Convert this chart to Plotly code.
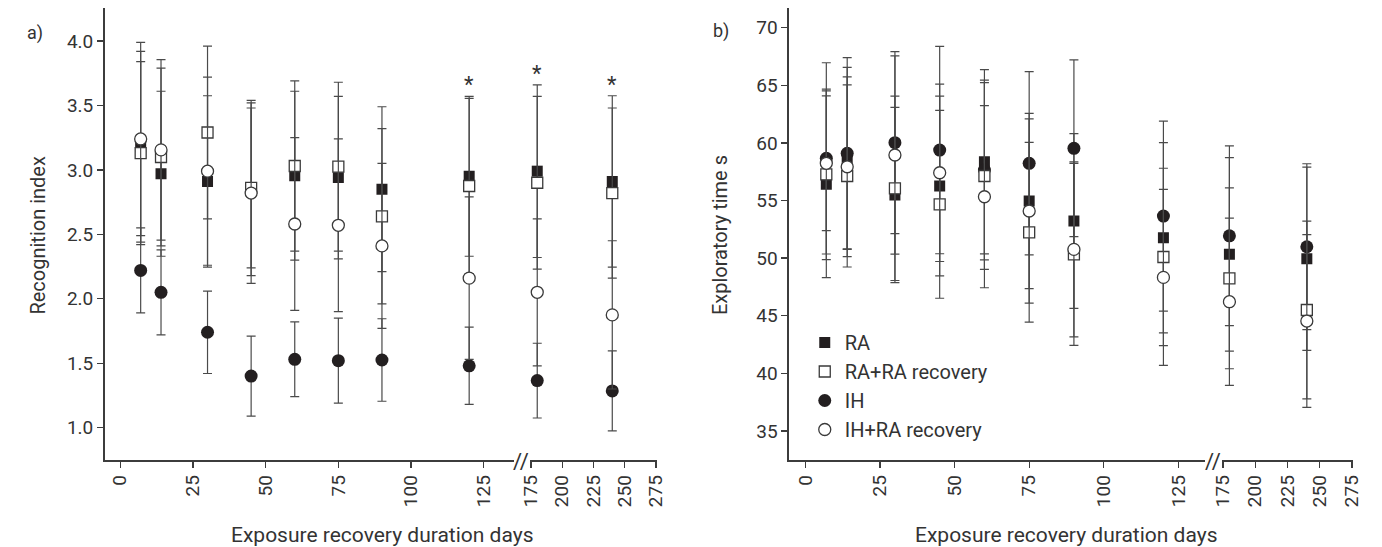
import plotly.graph_objects as go

W, H = 1382, 547

days = [7, 14, 30, 45, 60, 75, 90, 120, 180, 240]

# Panel a: Recognition index
ra_a = [3.18, 2.97, 2.91, 2.86, 2.955, 2.94, 2.85, 2.95, 2.99, 2.91]
ra_a_err = [0.74, 0.64, 0.665, 0.62, 0.655, 0.63, 0.64, 0.62, 0.67, 0.665]
rarec_a = [3.13, 3.10, 3.29, 2.86, 3.03, 3.025, 2.64, 2.875, 2.90, 2.82]
rarec_a_err = [0.71, 0.69, 0.67, 0.68, 0.66, 0.655, 0.68, 0.68, 0.67, 0.66]
ih_a = [2.22, 2.05, 1.74, 1.40, 1.53, 1.52, 1.525, 1.48, 1.365, 1.285]
ih_a_err = [0.33, 0.33, 0.32, 0.31, 0.29, 0.33, 0.32, 0.30, 0.29, 0.31]
ihrec_a = [3.24, 3.155, 2.99, 2.82, 2.58, 2.57, 2.41, 2.16, 2.05, 1.875]
ihrec_a_err = [0.75, 0.70, 0.73, 0.70, 0.67, 0.67, 0.64, 0.63, 0.57, 0.575]
sig_days_a = [120, 180, 240]

# Panel b: Exploratory time s
ra_b = [56.41, 58.66, 55.48, 56.26, 58.37, 54.96, 53.22, 51.77, 50.33, 49.95]
ra_b_err = [8.1, 7.9, 7.6, 7.8, 8.0, 7.6, 7.58, 8.25, 8.4, 7.95]
rarec_b = [57.27, 57.13, 56.06, 54.67, 57.13, 52.24, 50.33, 50.1, 48.25, 45.5]
rarec_b_err = [7.4, 7.9, 8.0, 8.15, 8.1, 7.8, 7.9, 7.7, 7.85, 7.72]
ih_b = [58.66, 59.1, 60.02, 59.38, 57.65, 58.23, 59.53, 53.65, 51.94, 50.99]
ih_b_err = [8.3, 8.3, 7.9, 9.0, 7.8, 7.95, 7.67, 8.25, 7.8, 7.2]
ihrec_b = [58.23, 57.93, 58.95, 57.41, 55.33, 54.09, 50.76, 48.33, 46.22, 44.54]
ihrec_b_err = [5.85, 7.8, 8.6, 7.7, 7.9, 8.0, 7.6, 7.64, 7.26, 7.5]

series_names = ["RA", "RA+RA recovery", "IH", "IH+RA recovery"]
ticks_seg1 = [0, 25, 50, 75, 100, 125]
ticks_seg2 = [175, 200, 225, 250, 275]
yticks_a = [1.0, 1.5, 2.0, 2.5, 3.0, 3.5, 4.0]
yticks_b = [35, 40, 45, 50, 55, 60, 65, 70]
break_day = 150

FONT = "Roboto"
INK = "#231f20"
AX = "#3c3c3c"
TXT = "#333333"
TICK_SIZE = 19
TEXT_SIZE = 21

styles = {
    "RA": dict(symbol="square", size=11, color=INK, line=dict(width=0, color=INK)),
    "RA+RA recovery": dict(symbol="square", size=11, color="white", line=dict(width=1.3, color="#3a3a3a")),
    "IH": dict(symbol="circle", size=13, color=INK, line=dict(width=0, color=INK)),
    "IH+RA recovery": dict(symbol="circle", size=12, color="white", line=dict(width=1.3, color="#3a3a3a")),
}
draw_order = ["RA", "IH", "RA+RA recovery", "IH+RA recovery"]
legend_rank = {n: i for i, n in enumerate(series_names)}

fig = go.Figure()

panels = [
    dict(data={"RA": (ra_a, ra_a_err), "RA+RA recovery": (rarec_a, rarec_a_err),
               "IH": (ih_a, ih_a_err), "IH+RA recovery": (ihrec_a, ihrec_a_err)},
         xs=("x", "x2"), y="y", legend=False),
    dict(data={"RA": (ra_b, ra_b_err), "RA+RA recovery": (rarec_b, rarec_b_err),
               "IH": (ih_b, ih_b_err), "IH+RA recovery": (ihrec_b, ihrec_b_err)},
         xs=("x3", "x4"), y="y2", legend=True),
]

for p in panels:
    for name in draw_order:
        vals, errs = p["data"][name]
        for seg, xref in enumerate(p["xs"]):
            idx = [i for i, d in enumerate(days) if (d < break_day) == (seg == 0)]
            fig.add_trace(go.Scatter(
                x=[days[i] for i in idx], y=[vals[i] for i in idx],
                mode="markers", name=name, xaxis=xref, yaxis=p["y"],
                marker=styles[name],
                error_y=dict(type="data", array=[errs[i] for i in idx], visible=True,
                             color="#4a4a4a", thickness=1.2, width=4.5),
                showlegend=(p["legend"] and seg == 0),
                legendrank=legend_rank[name],
                hoverinfo="skip",
            ))

def px_x(p):
    return p / W

def px_y(p):
    return 1 - p / H

ydom = [px_y(460), px_y(8)]

xcommon = dict(showline=True, linecolor=AX, linewidth=1.5, ticks="outside", ticklen=6,
               tickwidth=1.3, tickcolor=AX, showgrid=False, zeroline=False,
               tickangle=-90, tickfont=dict(family=FONT, size=TICK_SIZE, color=TXT))
ycommon = dict(showline=True, linecolor=AX, linewidth=1.5, ticks="outside", ticklen=6,
               tickwidth=1.3, tickcolor=AX, showgrid=False, zeroline=False,
               tickfont=dict(family=FONT, size=TICK_SIZE, color=TXT), domain=ydom)

fig.update_layout(
    width=W, height=H, margin=dict(l=0, r=0, t=0, b=0),
    paper_bgcolor="white", plot_bgcolor="white",
    font=dict(family=FONT, size=TEXT_SIZE, color=TXT),
    xaxis=dict(**xcommon, anchor="y", domain=[px_x(95), px_x(511)], range=[-5.42, 135.5],
               tickvals=ticks_seg1),
    xaxis2=dict(**xcommon, anchor="y", domain=[px_x(527), px_x(656)], range=[174.2, 275.8],
                tickvals=ticks_seg2),
    yaxis=dict(**ycommon, anchor="x", range=[0.749, 4.256], tickvals=yticks_a, tickformat=".1f"),
    xaxis3=dict(**xcommon, anchor="y2", domain=[px_x(790), px_x(1212)], range=[-5.51, 133.8],
                tickvals=ticks_seg1),
    xaxis4=dict(**xcommon, anchor="y2", domain=[px_x(1230), px_x(1363)], range=[174.5, 276.0],
                tickvals=ticks_seg2),
    yaxis2=dict(**ycommon, anchor="x3", range=[32.48, 71.71], tickvals=yticks_b),
    legend=dict(x=px_x(806), y=px_y(323), xanchor="left", yanchor="top",
                font=dict(family=FONT, size=20, color=TXT), bgcolor="rgba(0,0,0,0)",
                tracegroupgap=0, itemsizing="trace"),
)

ann = []

def label(text, xp, yp, size=TEXT_SIZE, angle=0):
    ann.append(dict(text=text, x=px_x(xp), y=px_y(yp), xref="paper", yref="paper",
                    xanchor="center", yanchor="middle", showarrow=False, textangle=angle,
                    font=dict(family=FONT, size=size, color=TXT)))

label("a)", 24, 33, size=18)
label("b)", 721, 31, size=18)
label("Recognition index", 27, 235, size=20, angle=-90)
label("Exploratory time s", 720, 235, size=20, angle=-90)
label("Exposure recovery duration days", 377, 535)
label("Exposure recovery duration days", 1072, 535)
for bx in (518, 1221):
    label("//", bx, 461, size=22)

# Significance asterisks
all_a = [(ra_a, ra_a_err), (rarec_a, rarec_a_err), (ih_a, ih_a_err), (ihrec_a, ihrec_a_err)]
for d in sig_days_a:
    i = days.index(d)
    top = max(v[i] + e[i] for v, e in all_a)
    ann.append(dict(text="*", x=d, y=top, xref="x" if d < break_day else "x2", yref="y",
                    xanchor="center", yanchor="bottom", yshift=-3, showarrow=False,
                    font=dict(family=FONT, size=22, color=TXT)))

fig.update_layout(annotations=ann)

fig.write_html("out.html", config={"displayModeBar": False, "staticPlot": True},
               post_script="document.body.style.margin='0';document.body.style.padding='0';"
                           "document.body.style.overflow='hidden';")
